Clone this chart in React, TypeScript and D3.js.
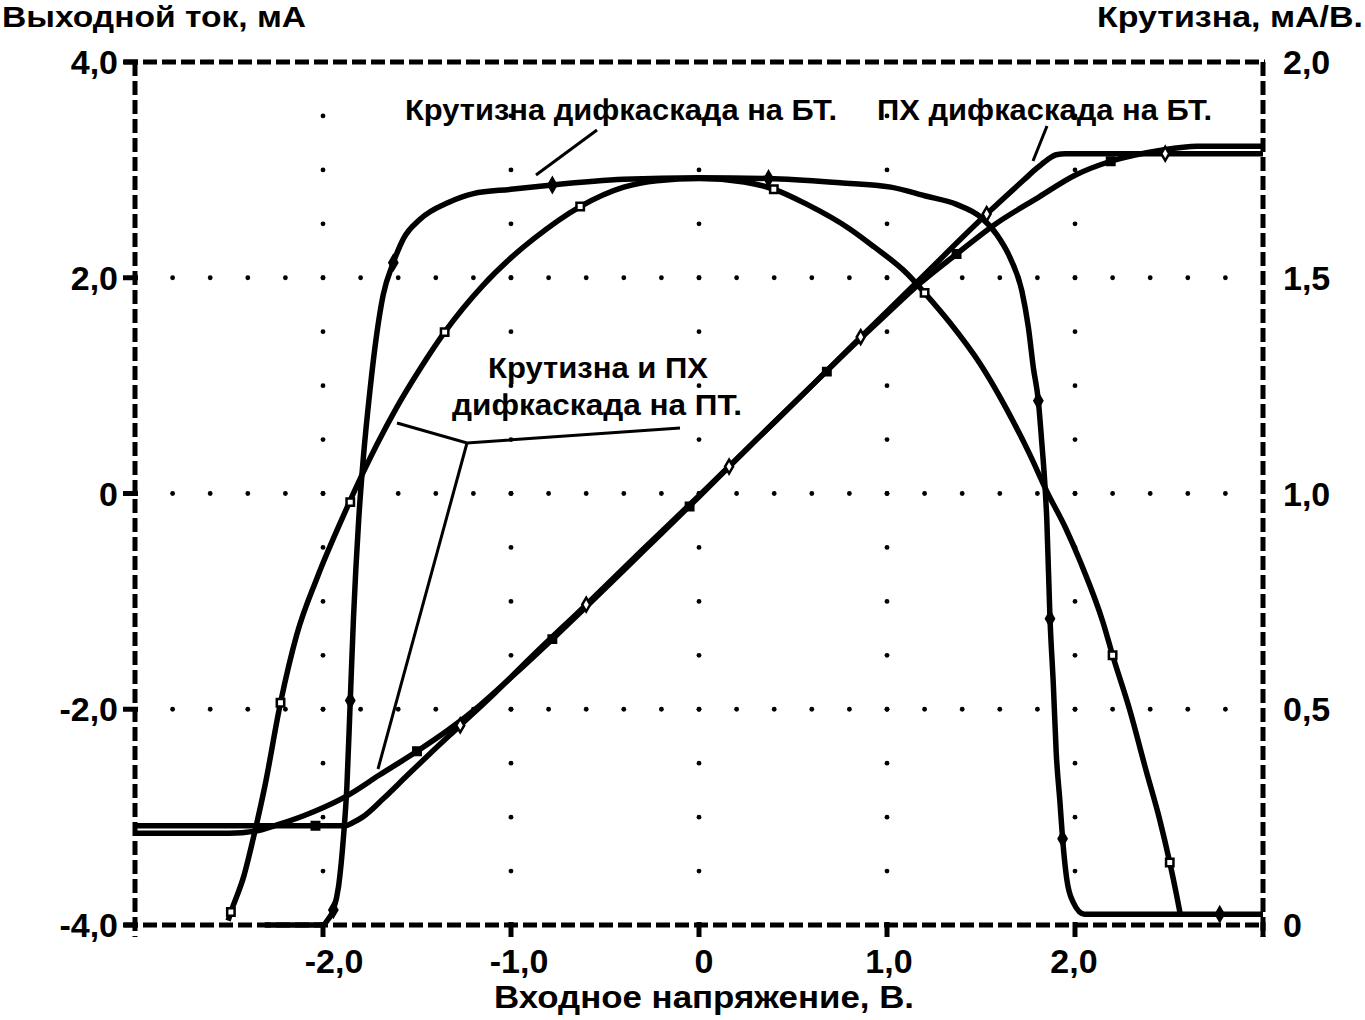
import React, { useEffect, useRef } from "react";
import * as d3 from "d3";

type Pt = [number, number];

// ПХ: input voltage (V) -> output current (mA), left axis
const btTransfer: Pt[] = [
  [-3.0, -3.08], [-1.88, -3.08], [-1.84, -3.05], [-1.79, -3.0], [-1.68, -2.83],
  [-1.55, -2.61], [-1.43, -2.41], [-1.27, -2.15], [-1.08, -1.84], [-0.9, -1.53],
  [-0.6, -1.03], [-0.3, -0.52], [0.0, -0.02], [0.3, 0.49], [0.6, 1.0],
  [0.86, 1.45], [1.16, 1.96], [1.53, 2.59], [1.73, 2.91], [1.8, 3.02],
  [1.85, 3.09], [1.9, 3.14], [1.95, 3.15], [3.0, 3.15]
];
const fetTransfer: Pt[] = [
  [-3.0, -3.15], [-2.5, -3.15], [-2.36, -3.13], [-2.24, -3.07], [-2.05, -2.95],
  [-1.87, -2.8], [-1.7, -2.61], [-1.5, -2.39], [-1.34, -2.2], [-1.17, -1.97],
  [-0.99, -1.69], [-0.78, -1.35], [-0.6, -1.05], [-0.3, -0.54], [0.0, -0.03],
  [0.3, 0.49], [0.6, 1.0], [0.8, 1.34], [0.99, 1.65], [1.17, 1.94],
  [1.37, 2.22], [1.57, 2.49], [1.81, 2.75], [2.0, 2.95], [2.19, 3.08],
  [2.45, 3.18], [2.65, 3.22], [3.0, 3.22]
];

// крутизна: input voltage (V) -> mA/V, right axis
const btSlope: Pt[] = [
  [-2.31, 0], [-2.0, 0], [-1.975, 0.012], [-1.945, 0.035], [-1.917, 0.09],
  [-1.89, 0.21], [-1.873, 0.32], [-1.855, 0.52], [-1.838, 0.71], [-1.81, 0.94],
  [-1.785, 1.085], [-1.75, 1.24], [-1.714, 1.37], [-1.68, 1.46], [-1.626, 1.535],
  [-1.573, 1.59], [-1.485, 1.635], [-1.33, 1.675], [-1.2, 1.695], [-1.0, 1.705],
  [-0.78, 1.715], [-0.4, 1.728], [0.0, 1.732], [0.37, 1.73], [0.75, 1.72],
  [1.02, 1.71], [1.2, 1.69], [1.37, 1.67], [1.5, 1.64], [1.584, 1.6],
  [1.655, 1.546], [1.717, 1.47], [1.752, 1.385], [1.779, 1.29], [1.805, 1.215],
  [1.823, 1.12], [1.837, 1.04], [1.85, 0.94], [1.867, 0.71], [1.885, 0.555],
  [1.9, 0.4], [1.92, 0.285], [1.934, 0.2], [1.956, 0.107], [1.99, 0.053],
  [2.05, 0.025], [3.0, 0.025]
];
const fetSlope: Pt[] = [
  [-2.505, 0.01], [-2.49, 0.03], [-2.42, 0.115], [-2.366, 0.21], [-2.31, 0.32],
  [-2.226, 0.515], [-2.14, 0.672], [-2.03, 0.806], [-1.89, 0.95], [-1.785, 1.05],
  [-1.714, 1.113], [-1.61, 1.198], [-1.485, 1.288], [-1.353, 1.374], [-1.15, 1.482],
  [-0.99, 1.55], [-0.88, 1.59], [-0.632, 1.665], [-0.4, 1.71], [-0.224, 1.725],
  [0.0, 1.73], [0.24, 1.722], [0.4, 1.705], [0.575, 1.67], [0.806, 1.612],
  [0.93, 1.572], [1.106, 1.51], [1.2, 1.465], [1.336, 1.395], [1.496, 1.3],
  [1.637, 1.195], [1.76, 1.09], [1.85, 1.005], [1.95, 0.92], [2.03, 0.84],
  [2.15, 0.7], [2.2, 0.625], [2.29, 0.5], [2.38, 0.355], [2.45, 0.245],
  [2.504, 0.145], [2.54, 0.07], [2.56, 0.025]
];

// simulator point markers left on the traces
const btTransferMarks: Pt[] = [[-1.27, -2.15], [-0.6, -1.03], [0.16, 0.25], [0.86, 1.45], [1.53, 2.59], [2.48, 3.15]];
const fetTransferMarks: Pt[] = [[-2.04, -3.08], [-1.5, -2.39], [-0.78, -1.35], [-0.05, -0.12], [0.68, 1.13], [1.37, 2.22], [2.19, 3.08]];
const btSlopeMarks: Pt[] = [[-1.945, 0.035], [-1.855, 0.52], [-1.626, 1.535], [-0.78, 1.715], [0.37, 1.73], [1.805, 1.215], [1.867, 0.71], [1.934, 0.2], [2.77, 0.025]];
const fetSlopeMarks: Pt[] = [[-2.49, 0.03], [-2.226, 0.515], [-1.855, 0.98], [-1.353, 1.374], [-0.632, 1.665], [0.398, 1.705], [1.2, 1.465], [2.2, 0.625], [2.504, 0.145]];

const xTicks = [-2, -1, 0, 1, 2];
const xTickLabels = ["-2,0", "-1,0", "0", "1,0", "2,0"];
const yTicks = [4, 2, 0, -2, -4];
const yTickLabels = ["4,0", "2,0", "0", "-2,0", "-4,0"];
const y2Ticks = [2, 1.5, 1, 0.5, 0];
const y2TickLabels = ["2,0", "1,5", "1,0", "0,5", "0"];

const FONT = "'Liberation Sans', Arial, Helvetica, sans-serif";

function DiffPairChart() {
  const svgRef = useRef<SVGSVGElement>(null);

  useEffect(() => {
    const svg = d3.select(svgRef.current);
    svg.selectAll("*").remove();

    const x = d3.scaleLinear().domain([-3, 3]).range([135, 1263]);
    const y = d3.scaleLinear().domain([-4, 4]).range([925, 62]);
    const y2 = d3.scaleLinear().domain([0, 2]).range([925, 62]);

    // dotted grid
    const grid = svg.append("g").attr("fill", "#000");
    [2, 0, -2].forEach(gy => {
      grid.append("g").selectAll("circle")
        .data(d3.range(-2.8, 2.81, 0.2))
        .join("circle")
        .attr("cx", d => x(d))
        .attr("cy", y(gy))
        .attr("r", 2.4);
    });
    xTicks.forEach(gx => {
      grid.append("g").selectAll("circle")
        .data(d3.range(-3.5, 3.51, 0.5))
        .join("circle")
        .attr("cx", x(gx))
        .attr("cy", d => y(d))
        .attr("r", 2.4);
    });

    // dashed frame with solid tick stubs
    const frame = svg.append("g").attr("stroke", "#000").attr("stroke-width", 5).attr("fill", "none");
    const dashed = (x1: number, y1: number, x2: number, y2v: number) =>
      frame.append("line")
        .attr("x1", x1).attr("y1", y1).attr("x2", x2).attr("y2", y2v)
        .attr("stroke-dasharray", "14 5");
    dashed(124, y(4), 1265, y(4));
    dashed(x(-3), y(4), x(-3), 937);
    dashed(124, y(-4), 1265, y(-4));
    dashed(x(3), y(4), x(3), 937);
    yTicks.forEach(t => {
      frame.append("line").attr("x1", 123).attr("x2", 138).attr("y1", y(t)).attr("y2", y(t));
    });
    [...xTicks, 3].forEach(t => {
      frame.append("line").attr("x1", x(t)).attr("x2", x(t)).attr("y1", 922).attr("y2", 937);
    });

    // traces
    const lineL = d3.line<Pt>().x(d => x(d[0])).y(d => y(d[1])).curve(d3.curveMonotoneX);
    const lineR = d3.line<Pt>().x(d => x(d[0])).y(d => y2(d[1])).curve(d3.curveMonotoneX);
    const traces = svg.append("g")
      .attr("fill", "none")
      .attr("stroke", "#000")
      .attr("stroke-width", 5.5)
      .attr("stroke-linejoin", "round");
    traces.append("path").attr("d", lineR(fetSlope));
    traces.append("path").attr("d", lineR(btSlope));
    traces.append("path").attr("d", lineL(fetTransfer));
    traces.append("path").attr("d", lineL(btTransfer));

    // markers
    const marks = (data: Pt[], scale: d3.ScaleLinear<number, number>, type: d3.SymbolType, fill: string) => {
      svg.append("g").selectAll("path")
        .data(data)
        .join("path")
        .attr("transform", d => `translate(${x(d[0])},${scale(d[1])})`)
        .attr("d", d3.symbol().type(type).size(55)())
        .attr("fill", fill)
        .attr("stroke", "#000")
        .attr("stroke-width", 2.5);
    };
    marks(btSlopeMarks, y2, d3.symbolDiamond, "#000");
    marks(fetSlopeMarks, y2, d3.symbolSquare, "#fff");
    marks(btTransferMarks, y, d3.symbolDiamond, "#fff");
    marks(fetTransferMarks, y, d3.symbolSquare, "#000");

    // callout leaders
    const leaders = svg.append("g").attr("stroke", "#000").attr("stroke-width", 3).attr("fill", "none");
    leaders.append("line").attr("x1", 597).attr("y1", 130).attr("x2", 536).attr("y2", 175);
    leaders.append("line").attr("x1", 1047).attr("y1", 126).attr("x2", 1033).attr("y2", 161);
    leaders.append("polyline").attr("points", "680,428 467,443 397,423");
    leaders.append("line").attr("x1", 467).attr("y1", 443).attr("x2", 378).attr("y2", 769);

    // texts
    const text = (s: string, tx: number, ty: number, size: number, len?: number, anchor = "start") => {
      const t = svg.append("text")
        .attr("x", tx)
        .attr("y", ty)
        .attr("font-family", FONT)
        .attr("font-size", size)
        .attr("font-weight", "bold")
        .attr("text-anchor", anchor)
        .attr("fill", "#000")
        .text(s);
      if (len) t.attr("textLength", len).attr("lengthAdjust", "spacingAndGlyphs");
    };
    yTicks.forEach((t, i) => text(yTickLabels[i], 118, y(t) + 12, 34, undefined, "end"));
    y2Ticks.forEach((t, i) => text(y2TickLabels[i], 1283, y2(t) + 12, 34));
    xTicks.forEach((t, i) => text(xTickLabels[i], x(t) + 5 - 3 * t, 973, 34, undefined, "middle"));

    text("Выходной ток, мА", 2, 27, 29, 304);
    text("Крутизна, мА/В.", 1097, 27, 29, 266);
    text("Входное напряжение, В.", 494, 1008, 31, 420);
    text("Крутизна дифкаскада на БТ.", 405, 120, 30, 432);
    text("ПХ дифкаскада на БТ.", 877, 120, 30, 335);
    text("Крутизна и ПХ", 488, 378, 30, 220);
    text("дифкаскада на ПТ.", 452, 415, 30, 290);
  }, []);

  return (
    <svg
      ref={svgRef}
      width={1365}
      height={1020}
      style={{ position: "absolute", left: 0, top: 0, background: "#fff" }}
    />
  );
}

export default function App() {
  return <DiffPairChart />;
}
